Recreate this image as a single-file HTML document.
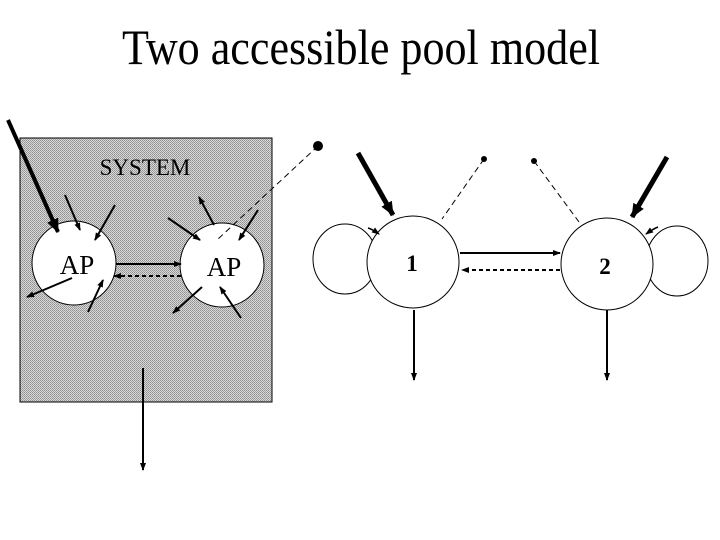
<!DOCTYPE html>
<html><head><style>body{margin:0;background:#fff}svg{display:block}</style></head>
<body>
<svg width="720" height="540" viewBox="0 0 720 540" xmlns="http://www.w3.org/2000/svg" font-family="Liberation Serif, serif">
<defs>
<pattern id="p" width="2" height="2" patternUnits="userSpaceOnUse"><rect width="2" height="2" fill="#d8d8d8"/><rect width="1" height="1" fill="#909090"/><rect x="1" y="1" width="1" height="1" fill="#a0a0a0"/></pattern>
<marker id="a" markerWidth="8" markerHeight="8" refX="7" refY="4" orient="auto" markerUnits="userSpaceOnUse"><path d="M0,1 L8,4 L0,7 z" fill="#000"/></marker>
<marker id="b" markerWidth="14" markerHeight="12" refX="13" refY="6" orient="auto" markerUnits="userSpaceOnUse"><path d="M0,0 L14,6 L0,12 z" fill="#000"/></marker>
</defs>
<text x="361" y="64" font-size="50" text-anchor="middle" textLength="478" lengthAdjust="spacingAndGlyphs">Two accessible pool model</text>
<rect x="20" y="138" width="252" height="264" fill="url(#p)" stroke="#000" stroke-width="1"/>
<text x="145" y="175" font-size="23" text-anchor="middle">SYSTEM</text>
<circle cx="74" cy="263" r="42" fill="#fff" stroke="#000"/>
<circle cx="222" cy="265" r="42" fill="#fff" stroke="#000"/>
<text x="77" y="274" font-size="27" text-anchor="middle">AP</text>
<text x="224" y="276" font-size="27" text-anchor="middle">AP</text>
<g stroke="#000" stroke-width="2" fill="none">
<line x1="8" y1="120" x2="58" y2="232" stroke-width="4" marker-end="url(#b)"/>
<line x1="65" y1="195" x2="80" y2="230" marker-end="url(#a)"/>
<line x1="115" y1="205" x2="95" y2="240" marker-end="url(#a)"/>
<line x1="168" y1="218" x2="200" y2="240" marker-end="url(#a)"/>
<line x1="214" y1="225" x2="199" y2="197" marker-end="url(#a)"/>
<line x1="258" y1="210" x2="239" y2="240" marker-end="url(#a)"/>
<line x1="72" y1="278" x2="27" y2="297" marker-end="url(#a)"/>
<line x1="88" y1="312" x2="103" y2="280" marker-end="url(#a)"/>
<line x1="202" y1="287" x2="173" y2="313" marker-end="url(#a)"/>
<line x1="241" y1="318" x2="220" y2="287" marker-end="url(#a)"/>
<line x1="116" y1="264" x2="181" y2="264" marker-end="url(#a)"/>
<line x1="181" y1="276" x2="114" y2="276" stroke-dasharray="4,3" marker-end="url(#a)"/>
<line x1="143" y1="368" x2="143" y2="470" marker-end="url(#a)"/>
</g>
<g stroke="#000" stroke-width="1" fill="none">
<line x1="318" y1="146" x2="217" y2="240" stroke-dasharray="6,4"/>
<line x1="484" y1="159" x2="442" y2="219" stroke-dasharray="6,4"/>
<line x1="534" y1="161" x2="579" y2="222" stroke-dasharray="6,4"/>
<ellipse cx="345" cy="259" rx="32" ry="35"/>
<ellipse cx="677" cy="261" rx="31" ry="35"/>
</g>
<circle cx="318" cy="146" r="5"/><circle cx="484" cy="159" r="3"/><circle cx="534" cy="161" r="3"/>
<circle cx="413" cy="262" r="46" fill="#fff" stroke="#000"/>
<circle cx="607" cy="264" r="46" fill="#fff" stroke="#000"/>
<text x="412" y="271" font-size="23" font-weight="bold" text-anchor="middle">1</text>
<text x="605" y="274" font-size="23" font-weight="bold" text-anchor="middle">2</text>
<g stroke="#000" stroke-width="2" fill="none">
<line x1="358" y1="153" x2="393" y2="215" stroke-width="5" marker-end="url(#b)"/>
<line x1="667" y1="157" x2="632" y2="217" stroke-width="5" marker-end="url(#b)"/>
<path d="M368,228 Q372,229 379,234" stroke-width="1.5" marker-end="url(#a)"/>
<path d="M658,227 Q653,229 646,234" stroke-width="1.5" marker-end="url(#a)"/>
<line x1="460" y1="253" x2="560" y2="253" marker-end="url(#a)"/>
<line x1="560" y1="270" x2="462" y2="270" stroke-dasharray="4,3" marker-end="url(#a)"/>
<line x1="414" y1="310" x2="414" y2="380" marker-end="url(#a)"/>
<line x1="607" y1="310" x2="607" y2="380" marker-end="url(#a)"/>
</g>
</svg>
</body></html>
